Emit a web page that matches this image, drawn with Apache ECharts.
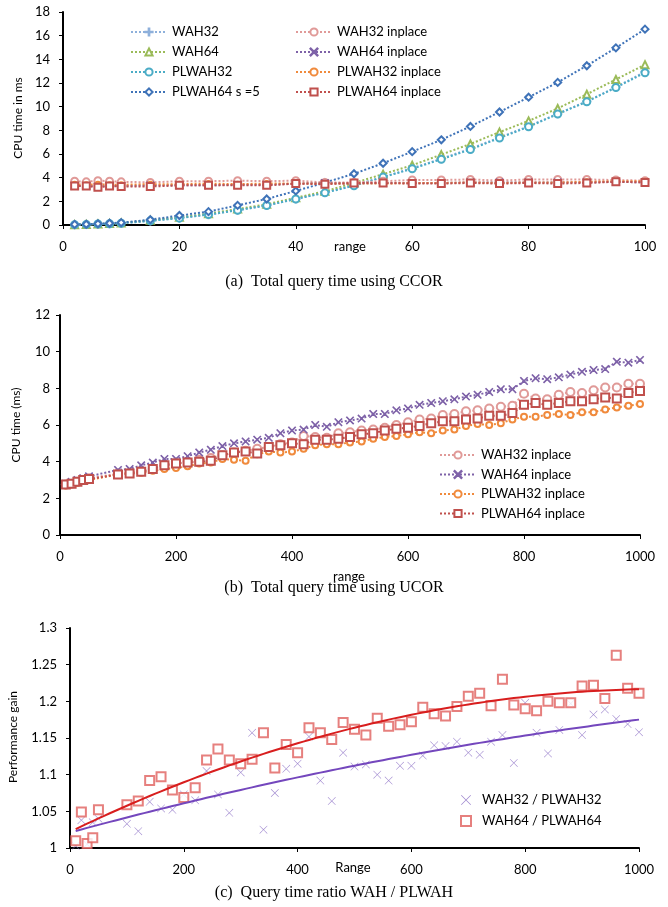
<!DOCTYPE html>
<html>
<head>
<meta charset="utf-8">
<script src="https://cdn.jsdelivr.net/npm/echarts@6/dist/echarts.min.js"></script>
<style>
html,body{margin:0;padding:0;background:#fff;}
#main{width:668px;height:907px;}
</style>
</head>
<body>
<div id="main"></div>
<script>
// (a) CCOR
var rangeA = [2,4,6,8,10,15,20,25,30,35,40,45,50,55,60,65,70,75,80,85,90,95,100];
var wah32A = [0.03,0.05,0.08,0.11,0.15,0.35,0.6,0.88,1.25,1.65,2.2,2.75,3.35,4.05,4.8,5.6,6.45,7.4,8.35,9.4,10.45,11.65,12.95];
var wah64A = [0.02,0.05,0.08,0.12,0.17,0.4,0.65,0.95,1.35,1.75,2.3,2.85,3.55,4.3,5.05,5.95,6.85,7.85,8.8,9.85,11.05,12.3,13.55];
var plwah32A = [0.03,0.05,0.08,0.11,0.15,0.35,0.58,0.88,1.25,1.65,2.2,2.72,3.32,4.05,4.75,5.55,6.38,7.35,8.3,9.38,10.42,11.62,12.87];
var plwah64A = [0.05,0.06,0.1,0.15,0.2,0.45,0.8,1.13,1.66,2.2,2.88,3.58,4.33,5.22,6.2,7.2,8.33,9.55,10.8,12.05,13.46,14.97,16.55];
var wah32ipA = [3.7,3.65,3.75,3.7,3.65,3.6,3.7,3.7,3.75,3.7,3.75,3.6,3.6,3.7,3.8,3.8,3.85,3.75,3.85,3.85,3.85,3.8,3.75];
var wah64ipA = [3.3,3.3,3.25,3.3,3.3,3.35,3.35,3.35,3.4,3.4,3.5,3.55,3.5,3.55,3.55,3.55,3.6,3.6,3.6,3.6,3.6,3.65,3.6];
var plwah32ipA = [3.45,3.4,3.45,3.4,3.4,3.45,3.45,3.5,3.45,3.5,3.5,3.5,3.5,3.5,3.55,3.55,3.6,3.55,3.6,3.6,3.65,3.7,3.7];
var plwah64ipA = [3.3,3.3,3.2,3.3,3.25,3.25,3.35,3.35,3.35,3.35,3.5,3.45,3.55,3.55,3.5,3.5,3.55,3.5,3.55,3.5,3.55,3.65,3.6];

// (b) UCOR
var rangeB = [10,20,30,40,50,100,120,140,160,180,200,220,240,260,280,300,320,340,360,380,400,420,440,460,480,500,520,540,560,580,600,620,640,660,680,700,720,740,760,780,800,820,840,860,880,900,920,940,960,980,1000];
var wah32ipB = [2.75,2.8,2.9,3.0,3.1, 3.35,3.4,3.5,3.6,3.85, 3.95,4.0,4.1,4.2,4.35, 4.5,4.6,4.7,4.8,4.95, 5.05,5.4,5.35,5.3,5.55, 5.6,5.7,5.75,5.85,6.0, 6.15,6.3,6.35,6.55,6.6, 6.75,6.8,6.9,7.0,7.05, 7.7,7.45,7.4,7.65,7.8, 7.75,7.9,8.05,8.05,8.25, 8.25];
var wah64ipB = [2.8,2.9,3.0,3.1,3.2, 3.55,3.6,3.8,3.95,4.15, 4.15,4.3,4.5,4.65,4.85, 5.0,5.1,5.2,5.3,5.55, 5.7,5.75,6.0,5.9,6.15, 6.25,6.35,6.6,6.6,6.8, 6.9,7.1,7.2,7.3,7.4, 7.55,7.65,7.8,7.95,7.95, 8.4,8.55,8.5,8.6,8.75, 8.9,9.0,9.05,9.45,9.4, 9.55];
var plwah32ipB = [2.7,2.8,2.85,2.95,3.0, 3.3,3.35,3.4,3.5,3.6, 3.65,3.75,3.9,3.95,4.15, 4.1,4.05,4.4,4.55,4.5, 4.55,4.7,4.9,4.95,4.95, 5.05,5.1,5.25,5.35,5.4, 5.5,5.6,5.55,5.7,5.75, 5.95,6.05,6.0,6.1,6.3, 6.45,6.45,6.55,6.6,6.55, 6.7,6.7,6.85,6.95,7.05, 7.15];
var plwah64ipB = [2.75,2.8,2.9,3.0,3.05, 3.3,3.35,3.45,3.6,3.8, 3.9,3.95,4.0,4.05,4.35, 4.5,4.55,4.45,4.8,4.9, 5.0,4.95,5.2,5.2,5.25, 5.35,5.5,5.55,5.7,5.8, 5.85,5.95,6.1,6.2,6.2, 6.3,6.35,6.5,6.5,6.65, 7.1,7.2,7.1,7.2,7.3, 7.3,7.4,7.5,7.45,7.75, 7.85];

// (c) ratio
var rangeC = rangeB;
var ratio32 = [1.003,1.038,1.005,1.035,1.04, 1.033,1.023,1.063,1.054,1.052, 1.073,1.065,1.105,1.073,1.048, 1.103,1.157,1.025,1.075,1.108, 1.115,1.152,1.092,1.064,1.13, 1.111,1.114,1.1,1.092,1.112, 1.112,1.126,1.14,1.139,1.145, 1.13,1.127,1.145,1.154,1.116, 1.198,1.157,1.129,1.161,1.197, 1.154,1.182,1.189,1.176,1.169, 1.158];
var ratio64 = [1.01,1.049,1.006,1.014,1.052, 1.059,1.064,1.092,1.097,1.079, 1.069,1.082,1.12,1.135,1.12, 1.115,1.121,1.157,1.109,1.141, 1.13,1.164,1.157,1.148,1.171, 1.162,1.154,1.177,1.166,1.168, 1.172,1.192,1.183,1.18,1.193, 1.207,1.211,1.194,1.23,1.195, 1.19,1.187,1.2,1.198,1.198, 1.221,1.222,1.204,1.263,1.218, 1.211];

var FONT = 'Lato';
var PLUS = 'path://M4.5,0H5.5V4.5H10V5.5H5.5V10H4.5V5.5H0V4.5H4.5Z';
var CROSS = 'path://M0.5,0L5,4.5L9.5,0L10,0.5L5.5,5L10,9.5L9.5,10L5,5.5L0.5,10L0,9.5L4.5,5L0,0.5Z';

function pairs(xs, ys){
	var out = [];
	for(var i=0;i<xs.length;i++) out.push([xs[i], ys[i]]);
	return out;
}
// least squares quadratic (like the excel trendline)
function quadFit(xs, ys){
	var s=[0,0,0,0,0], t=[0,0,0];
	for(var i=0;i<xs.length;i++){
		var x = xs[i]/1000, p = 1;
		for(var k=0;k<5;k++){ s[k]+=p; if(k<3) t[k]+=p*ys[i]; p*=x; }
	}
	var m = [[s[0],s[1],s[2]],[s[1],s[2],s[3]],[s[2],s[3],s[4]]];
	function det(a){
		return a[0][0]*(a[1][1]*a[2][2]-a[1][2]*a[2][1])-a[0][1]*(a[1][0]*a[2][2]-a[1][2]*a[2][0])+a[0][2]*(a[1][0]*a[2][1]-a[1][1]*a[2][0]);
	}
	var d = det(m), c = [];
	for(var j=0;j<3;j++){
		var mm = m.map(function(r,ri){ var rr=r.slice(); rr[j]=t[ri]; return rr; });
		c.push(det(mm)/d);
	}
	var line = [];
	for(var xv=xs[0]; xv<=xs[xs.length-1]; xv+=10){
		var u = xv/1000;
		line.push([xv, c[0]+c[1]*u+c[2]*u*u]);
	}
	return line;
}

function xAx(idx, max, interval){
	return {
		type:'value', gridIndex:idx, min:0, max:max, interval:interval,
		axisLine:{onZero:false, lineStyle:{color:'#000', width:2}},
		axisTick:{show:true, length:4, lineStyle:{color:'#000', width:1}},
		axisLabel:{fontFamily:FONT, fontSize:13, color:'#000', margin:15, formatter:function(v){return String(v);}},
		splitLine:{show:false}
	};
}
function yAx(idx, min, max, interval, margin){
	return {
		type:'value', gridIndex:idx, min:min, max:max, interval:interval,
		axisLine:{show:true, lineStyle:{color:'#000', width:2}},
		axisTick:{show:true, length:4, lineStyle:{color:'#000', width:1}},
		axisLabel:{fontFamily:FONT, fontSize:13, color:'#000', margin:margin},
		splitLine:{show:false}
	};
}
function dotLine(name, idx, xs, ys, color, symbol, size){
	return {
		name:name, type:'line', xAxisIndex:idx, yAxisIndex:idx,
		data:pairs(xs, ys), symbol:symbol, symbolSize:size, showAllSymbol:true,
		lineStyle:{color:color, width:2, type:[2,2]},
		itemStyle:{color:color, borderColor:color, borderWidth:1.1},
		emphasis:{disabled:true}
	};
}
function label(text, x, y, rot){
	return {type:'text', x:x, y:y, rotation:rot ? Math.PI/2 : 0,
		style:{text:text, font:(rot ? '12px ' : '13px ') + FONT, fill:'#000', align:'center', verticalAlign:'middle'}};
}
function caption(text, top){
	return {type:'text', left:'center', top:top, style:{text:text, font:'16px "Liberation Serif"', fill:'#000'}};
}

var chart = echarts.init(document.getElementById('main'));
var legendText = {fontFamily:FONT, fontSize:13, color:'#000', lineHeight:14};
var option = {
	animation:false,
	backgroundColor:'#fff',
	grid:[
		{left:63, right:23, top:12, height:213},
		{left:60, right:28, top:315, height:220},
		{left:70, right:29, top:628, height:220}
	],
	xAxis:[ xAx(0, 100, 20), xAx(1, 1000, 200), xAx(2, 1000, 200) ],
	yAxis:[ yAx(0, 0, 18, 2, 13), yAx(1, 0, 12, 2, 10), yAx(2, 1, 1.3, 0.05, 13) ],
	legend:[
		{left:125, top:20, orient:'vertical', itemWidth:36, itemHeight:9, itemGap:6, textStyle:legendText,
			data:['WAH32','WAH64','PLWAH32','PLWAH64 s =5']},
		{left:290, top:20, orient:'vertical', itemWidth:36, itemHeight:9, itemGap:6, textStyle:legendText,
			data:['WAH32 inplace','WAH64 inplace','PLWAH32 inplace','PLWAH64 inplace']},
		{left:434, top:443, orient:'vertical', itemWidth:36, itemHeight:9, itemGap:5.5, textStyle:legendText,
			data:['WAH32 inplace','WAH64 inplace','PLWAH32 inplace','PLWAH64 inplace']},
		{left:455, top:788, orient:'vertical', itemWidth:10, itemHeight:10, itemGap:7, 
			textStyle:{fontFamily:FONT, fontSize:13, color:'#000', lineHeight:14, padding:[0,0,0,6]},
			data:['WAH32 / PLWAH32','WAH64 / PLWAH64']}
	],
	graphic:[
		label('range', 350, 247), label('range', 349, 577), label('Range', 353, 868),
		label('CPU time in ms', 18, 118, true), label('CPU time (ms)', 16, 425, true), label('Performance gain', 13, 737, true),
		caption('(a)  Total query time using CCOR', 274),
		caption('(b)  Total query time using UCOR', 580),
		caption('(c)  Query time ratio WAH / PLWAH', 885)
	],
	series:[
		dotLine('WAH32', 0, rangeA, wah32A, '#8EB0DB', PLUS, 8),
		dotLine('WAH64', 0, rangeA, wah64A, '#9BBB59', 'emptyTriangle', 7),
		dotLine('PLWAH32', 0, rangeA, plwah32A, '#4BACC6', 'emptyCircle', 7),
		dotLine('PLWAH64 s =5', 0, rangeA, plwah64A, '#3F73B8', 'emptyDiamond', 7),
		dotLine('WAH32 inplace', 0, rangeA, wah32ipA, '#E09A98', 'emptyCircle', 7),
		dotLine('WAH64 inplace', 0, rangeA, wah64ipA, '#7E62A8', CROSS, 7),
		dotLine('PLWAH32 inplace', 0, rangeA, plwah32ipA, '#F08A3C', 'emptyCircle', 5),
		dotLine('PLWAH64 inplace', 0, rangeA, plwah64ipA, '#C0504D', 'emptyRect', 7),

		dotLine('WAH32 inplace', 1, rangeB, wah32ipB, '#E09A98', 'emptyCircle', 8),
		dotLine('WAH64 inplace', 1, rangeB, wah64ipB, '#7E62A8', CROSS, 7),
		dotLine('PLWAH32 inplace', 1, rangeB, plwah32ipB, '#F08A3C', 'emptyCircle', 6),
		dotLine('PLWAH64 inplace', 1, rangeB, plwah64ipB, '#C0504D', 'emptyRect', 8),

		{name:'WAH32 / PLWAH32', type:'scatter', xAxisIndex:2, yAxisIndex:2, data:pairs(rangeC, ratio32),
			symbol:CROSS, symbolSize:8, itemStyle:{color:'#8466C2'}},
		{name:'WAH64 / PLWAH64', type:'scatter', xAxisIndex:2, yAxisIndex:2, data:pairs(rangeC, ratio64),
			symbol:'emptyRect', symbolSize:9, itemStyle:{color:'#E0605E', borderColor:'#E0605E', borderWidth:1.2}},
		{type:'line', xAxisIndex:2, yAxisIndex:2, data:quadFit(rangeC, ratio32), symbol:'none',
			lineStyle:{color:'#7447BD', width:2}, silent:true},
		{type:'line', xAxisIndex:2, yAxisIndex:2, data:quadFit(rangeC, ratio64), symbol:'none',
			lineStyle:{color:'#D81E1E', width:2}, silent:true}
	]
};
chart.setOption(option);
</script>
</body>
</html>
